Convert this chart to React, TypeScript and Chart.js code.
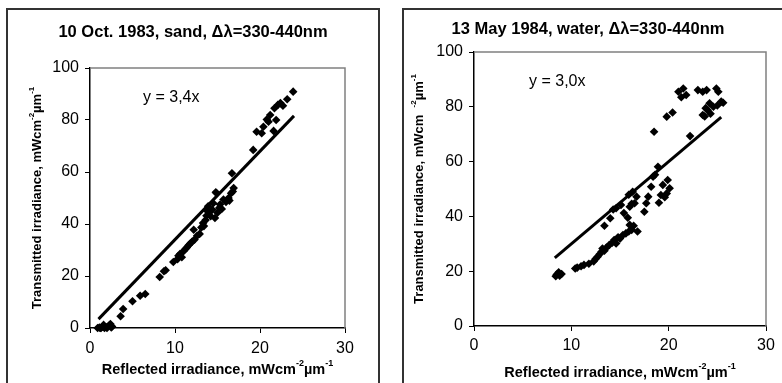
import React, { useEffect, useRef } from 'react';
import { Chart, registerables } from 'chart.js';
Chart.register(...registerables);

const FONT = "'Liberation Sans', Arial, Helvetica, sans-serif";

// ---- Data: 10 Oct. 1983, sand ----
const sandX = [0.9, 1.1, 1.2, 1.3, 1.5, 1.6, 1.7, 1.9, 2.0, 2.2, 2.4, 2.5, 2.6,
  3.6, 3.9, 5.0, 5.9, 6.5, 8.2, 8.7, 8.9, 9.8, 10.3, 10.4, 10.6, 10.8, 11.0, 11.2, 11.4,
  11.6, 11.8, 12.0, 12.2, 12.3, 12.6, 12.9, 13.1, 13.3, 13.4, 13.6, 13.7, 13.8, 13.9,
  14.0, 14.2, 14.4, 14.5, 14.7, 14.8, 14.9, 15.0, 15.2, 15.3, 15.5, 15.7, 16.0, 16.3,
  16.4, 16.6, 16.7, 16.8, 16.9, 19.2, 19.6, 20.2, 20.4, 20.8, 21.0, 21.2, 21.6, 21.7,
  21.9, 22.1, 22.4, 22.7, 23.2, 23.9];
const sandY = [0.0, 0.2, 0.0, 0.0, 0.5, 1.2, 0.0, 0.3, 0.0, 0.8, 1.5, 0.2, 0.6,
  4.5, 7.3, 10.3, 12.4, 13.1, 19.6, 21.8, 22.2, 25.4, 26.5, 27.8, 28.5, 27.2, 29.5, 30.3, 31.0,
  31.8, 32.5, 33.2, 37.8, 34.0, 35.5, 36.2, 38.7, 40.4, 39.2, 41.5, 43.2, 45.0, 46.8,
  44.5, 43.0, 45.5, 48.0, 42.3, 52.2, 51.8, 44.3, 46.2, 47.5, 45.8, 49.4, 48.5, 50.0,
  49.0, 51.8, 59.5, 52.5, 53.8, 68.5, 75.5, 74.9, 77.4, 80.2, 79.3, 81.9, 75.8, 84.5,
  80.0, 85.8, 86.5, 85.5, 88.0, 90.9];
const sandFitX = [1.0, 24.0];
const sandFitY = [3.4, 81.6];

// ---- Data: 13 May 1984, water ----
const waterX = [8.4, 8.5, 8.7, 8.8, 9.0, 10.4, 10.6, 11.0, 11.3, 11.8, 12.3, 12.5, 12.7,
  12.9, 13.1, 13.2, 13.4, 13.6, 13.9, 14.2, 14.4, 14.6, 14.8, 15.0, 15.3, 15.6, 15.9, 16.2,
  16.4, 16.0, 16.8, 13.4, 14.0, 14.3, 14.6, 15.1, 15.4, 15.8, 16.0, 16.2, 15.9, 16.3, 16.7,
  16.5, 17.5, 17.7, 17.9, 18.2, 18.4, 18.6, 18.9, 19.4, 19.2, 19.0, 19.8, 19.9, 20.1, 19.6,
  18.5, 19.8, 20.4, 22.2, 21.0, 21.3, 21.5, 21.8, 23.0, 23.5, 23.9, 24.9, 25.1, 24.2, 24.0,
  23.5, 23.7, 24.6, 25.4, 25.0, 23.8, 24.3, 25.6];
const waterY = [18.2, 18.8, 19.6, 18.4, 19.0, 21.0, 21.3, 21.8, 22.3, 22.7, 23.6, 24.5, 25.3,
  26.2, 27.1, 28.3, 27.5, 28.6, 29.6, 30.4, 31.4, 30.1, 32.4, 31.9, 33.2, 33.8, 34.5, 35.1,
  36.6, 36.9, 34.5, 36.6, 39.3, 42.5, 43.0, 44.2, 41.2, 39.5, 43.5, 44.6, 47.9, 49.0, 47.2,
  44.8, 41.7, 44.8, 47.2, 50.8, 54.5, 55.2, 58.1, 51.5, 47.8, 45.0, 48.4, 53.3, 50.3, 47.0,
  70.9, 76.4, 77.9, 69.3, 85.5, 83.5, 86.7, 84.3, 86.1, 85.5, 86.1, 86.7, 85.5, 81.3, 78.8,
  77.0, 76.5, 80.0, 81.9, 80.5, 79.5, 77.5, 81.5];
const waterFitX = [8.3, 25.4];
const waterFitY = [24.9, 76.2];

const xTicks = [0, 10, 20, 30];
const yTicks = [0, 20, 40, 60, 80, 100];

const sandTitle = '10 Oct. 1983, sand, Δλ=330-440nm';
const waterTitle = '13 May 1984, water, Δλ=330-440nm';
const sandEq = 'y = 3,4x';
const waterEq = 'y = 3,0x';

type Part = { t: string; sup?: boolean };
const xTitleParts: Part[] = [{ t: 'Reflected irradiance, mWcm' }, { t: '-2', sup: true }, { t: 'µm' }, { t: '-1', sup: true }];
const yTitleLeft: Part[] = [{ t: 'Transmitted irradiance, mWcm' }, { t: '-2', sup: true }, { t: 'µm' }, { t: '-1', sup: true }];
const yTitleRight: Part[] = [{ t: 'Transmitted irradiance, mWcm  ' }, { t: '-2', sup: true }, { t: 'µm' }, { t: '-1', sup: true }];

function drawParts(ctx: CanvasRenderingContext2D, parts: Part[], size: number, cx: number, cy: number) {
  const main = `bold ${size}px ${FONT}`;
  const sup = `bold ${Math.round(size * 0.62)}px ${FONT}`;
  const widths = parts.map(p => { ctx.font = p.sup ? sup : main; return ctx.measureText(p.t).width; });
  const total = widths.reduce((a, b) => a + b, 0);
  let x = cx - total / 2;
  ctx.textAlign = 'left';
  ctx.textBaseline = 'middle';
  parts.forEach((p, i) => {
    ctx.font = p.sup ? sup : main;
    ctx.fillText(p.t, x, p.sup ? cy - size * 0.42 : cy);
    x += widths[i];
  });
}

type PanelCfg = {
  xs: number[]; ys: number[]; fx: number[]; fy: number[];
  title: string; eq: string; yParts: Part[];
  w: number; h: number;
  area: { left: number; right: number; top: number; bottom: number };
  titlePos: [number, number]; eqPos: [number, number]; yTitleX: number; xTitleY: number;
  tickPad: number;
};

function Panel({ cfg }: { cfg: PanelCfg }) {
  const ref = useRef<HTMLCanvasElement>(null);
  useEffect(() => {
    const canvas = ref.current!;
    const a = cfg.area;
    const frame = {
      id: 'frame',
      beforeDatasetsDraw(chart: any) {
        const { ctx, chartArea: ca } = chart;
        ctx.save();
        ctx.strokeStyle = '#808080';
        ctx.lineWidth = 1.5;
        ctx.beginPath();
        ctx.moveTo(ca.left, ca.top);
        ctx.lineTo(ca.right, ca.top);
        ctx.lineTo(ca.right, ca.bottom);
        ctx.stroke();
        ctx.restore();
      },
      afterDraw(chart: any) {
        const { ctx, chartArea: ca } = chart;
        ctx.save();
        ctx.fillStyle = '#000';
        ctx.font = `bold 16.5px ${FONT}`;
        ctx.textAlign = 'center';
        ctx.textBaseline = 'middle';
        ctx.fillText(cfg.title, cfg.titlePos[0], cfg.titlePos[1]);
        ctx.font = `16px ${FONT}`;
        ctx.textAlign = 'left';
        ctx.fillText(cfg.eq, cfg.eqPos[0], cfg.eqPos[1]);
        drawParts(ctx, xTitleParts, 14.5, (ca.left + ca.right) / 2, cfg.xTitleY);
        ctx.translate(cfg.yTitleX, (ca.top + ca.bottom) / 2);
        ctx.rotate(-Math.PI / 2);
        drawParts(ctx, cfg.yParts, 13, 0, 0);
        ctx.restore();
      },
    };
    const chart = new Chart(canvas, {
      type: 'scatter',
      data: {
        datasets: [
          {
            data: cfg.xs.map((x, i) => ({ x, y: cfg.ys[i] })),
            pointStyle: 'rectRot',
            pointRadius: 4.3,
            pointBorderWidth: 0,
            backgroundColor: '#000',
            borderColor: '#000',
            showLine: false,
            clip: false as any,
          },
          {
            data: cfg.fx.map((x, i) => ({ x, y: cfg.fy[i] })),
            showLine: true,
            borderColor: '#000',
            borderWidth: 3,
            pointRadius: 0,
            fill: false,
          },
        ],
      },
      options: {
        responsive: false,
        animation: false,
        devicePixelRatio: 1,
        layout: { padding: { left: 0, top: a.top, right: cfg.w - a.right, bottom: 0 } },
        plugins: { legend: { display: false }, tooltip: { enabled: false }, title: { display: false } },
        scales: {
          x: {
            type: 'linear', min: 0, max: 30,
            afterFit: (s: any) => { s.height = cfg.h - a.bottom; },
            afterBuildTicks: (s: any) => { s.ticks = xTicks.map(v => ({ value: v })); },
            grid: { drawOnChartArea: false, drawTicks: true, tickLength: 5, color: '#000', lineWidth: 1 },
            border: { display: true, color: '#000', width: 1.5 },
            ticks: { color: '#000', font: { family: FONT, size: 16 }, padding: cfg.tickPad, maxRotation: 0 },
          },
          y: {
            type: 'linear', min: 0, max: 100,
            afterFit: (s: any) => { s.width = a.left; },
            afterBuildTicks: (s: any) => { s.ticks = yTicks.map(v => ({ value: v })); },
            grid: { drawOnChartArea: false, drawTicks: true, tickLength: 5, color: '#000', lineWidth: 1 },
            border: { display: true, color: '#000', width: 1.5 },
            ticks: { color: '#000', font: { family: FONT, size: 16 }, padding: 6 },
          },
        },
      },
      plugins: [frame],
    });
    return () => chart.destroy();
  }, [cfg]);
  return <canvas ref={ref} width={cfg.w} height={cfg.h} style={{ display: 'block', width: cfg.w, height: cfg.h }} />;
}

const sandCfg: PanelCfg = {
  xs: sandX, ys: sandY, fx: sandFitX, fy: sandFitY, title: sandTitle, eq: sandEq, yParts: yTitleLeft,
  w: 370, h: 373, area: { left: 82, right: 337, top: 58, bottom: 318 },
  titlePos: [185, 22], eqPos: [135, 88], yTitleX: 29, xTitleY: 360, tickPad: 6,
};
const waterCfg: PanelCfg = {
  xs: waterX, ys: waterY, fx: waterFitX, fy: waterFitY, title: waterTitle, eq: waterEq, yParts: yTitleRight,
  w: 378, h: 373, area: { left: 70, right: 362, top: 42, bottom: 316 },
  titlePos: [184, 19], eqPos: [125, 72], yTitleX: 15, xTitleY: 363, tickPad: 5,
};

export default function App() {
  const box: React.CSSProperties = {
    position: 'absolute', top: 8, height: 385, boxSizing: 'border-box',
    border: '2px solid #333', borderBottom: 'none', background: '#fff', overflow: 'hidden',
  };
  return (
    <div style={{ position: 'fixed', left: 0, top: 0, width: 782, height: 383, background: '#fff', overflow: 'hidden' }}>
      <div style={{ ...box, left: 6, width: 374 }}>
        <Panel cfg={sandCfg} />
      </div>
      <div style={{ ...box, left: 402, width: 382 }}>
        <Panel cfg={waterCfg} />
      </div>
    </div>
  );
}
